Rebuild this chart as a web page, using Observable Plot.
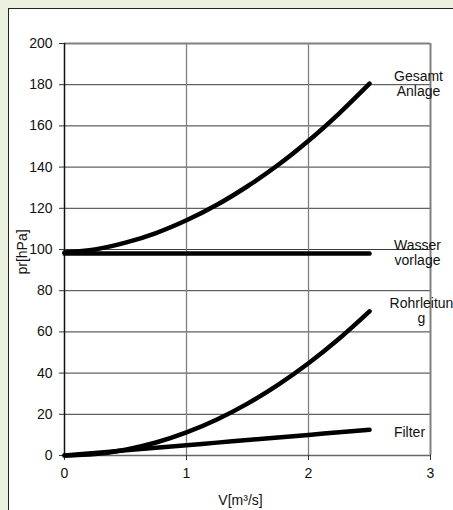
<!DOCTYPE html>
<html><head><meta charset="utf-8">
<script src="https://cdn.jsdelivr.net/npm/d3@7"></script>
<script src="https://cdn.jsdelivr.net/npm/@observablehq/plot@0.6"></script>
<style>
html,body{margin:0;padding:0;background:#ebf1de;width:453px;height:510px;overflow:hidden;}
#panel{position:absolute;left:8px;top:8px;width:460px;height:520px;background:#fff;border-left:1.5px solid #222;border-top:1.5px solid #222;}
#chart{position:absolute;left:0;top:0;}
</style></head><body><div id="panel"></div><div id="chart"></div>
<script>
const flow    = [0, 0.25, 0.5, 0.75, 1, 1.25, 1.5, 1.75, 2, 2.25, 2.5];
const gesamt  = [98.5, 100, 103.3, 108, 114.2, 121.7, 130.7, 141, 152.8, 166, 180.5];
const wasser  = [98, 98, 98, 98, 98, 98, 98, 98, 98, 98, 98];
const rohr    = [0, 0.7, 2.8, 6.3, 11.2, 17.5, 25.2, 34.3, 44.8, 56.7, 70];
const filter  = [0, 1.25, 2.5, 3.75, 5, 6.25, 7.5, 8.75, 10, 11.25, 12.5];
const seriesNames  = ["Gesamt Anlage", "Wasser vorlage", "Rohrleitung", "Filter"];
const seriesLabels = ["Gesamt\nAnlage", "Wasser\nvorlage", "Rohrleitun\ng", "Filter"];
const xTicks = [0, 1, 2, 3];
const yTicks = [0, 20, 40, 60, 80, 100, 120, 140, 160, 180, 200];
const xLabel = "V[m³/s]";
const yLabel = "pr[hPa]";

const seriesValues = [gesamt, wasser, rohr, filter];
const rows = seriesNames.flatMap((name, i) => flow.map((v, j) => ({series: name, label: seriesLabels[i], V: v, p: seriesValues[i][j]})));
const bySeries = name => rows.filter(d => d.series === name);
const lastOf = name => bySeries(name).slice(-1);

const font = "Liberation Sans, Arial, sans-serif";
const labelOffsets = [[49, 0], [48, -1], [52, -1], [40, 2]];

const chart = Plot.plot({
  width: 453, height: 510,
  marginLeft: 64, marginRight: 23, marginTop: 43, marginBottom: 55,
  style: {background: "transparent", fontFamily: font, fontSize: "14px", color: "#111", overflow: "visible"},
  x: {domain: [0, 3]},
  y: {domain: [0, 200]},
  marks: [
    Plot.ruleY(yTicks.filter(t => t > 0 && t < 200), {y: d => d, stroke: "#3a3a3a", strokeWidth: 1}),
    Plot.ruleX(xTicks.filter(t => t > 0 && t < 3), {x: d => d, stroke: "#808080", strokeWidth: 1.3}),
    Plot.ruleY([200], {y: d => d, stroke: "#808080", strokeWidth: 2}),
    Plot.ruleX([3], {x: d => d, stroke: "#808080", strokeWidth: 2}),
    Plot.ruleY([0], {y: d => d, stroke: "#666", strokeWidth: 1.5}),
    Plot.ruleX([0], {x: d => d, stroke: "#111", strokeWidth: 1.5}),
    Plot.axisX({ticks: xTicks, tickSize: 5, tickPadding: 8, label: null, fontSize: 14, tickFormat: d => String(d), stroke: "#333"}),
    Plot.axisY({ticks: yTicks, tickSize: 5, tickPadding: 7, label: null, fontSize: 14, tickFormat: d => String(d), stroke: "#333"}),
    Plot.line(rows, {x: "V", y: "p", z: "series", stroke: "#000", strokeWidth: 4.5, strokeLinecap: "round", strokeLinejoin: "round", curve: "catmull-rom"}),
    ...seriesNames.map((name, i) => Plot.text(lastOf(name), {
      x: "V", y: "p", text: "label", dx: labelOffsets[i][0], dy: labelOffsets[i][1],
      textAnchor: "middle", lineAnchor: "middle", lineHeight: 1.1, fontSize: 14, fill: "#111"
    })),
    Plot.text([xLabel], {frameAnchor: "bottom", dx: -7, dy: 45, lineAnchor: "middle", fontSize: 14, fill: "#111"}),
    Plot.text([yLabel], {frameAnchor: "left", dx: -42, dy: 25, rotate: -90, fontSize: 14, fill: "#111"})
  ]
});
document.getElementById("chart").appendChild(chart);
</script>
</body></html>
